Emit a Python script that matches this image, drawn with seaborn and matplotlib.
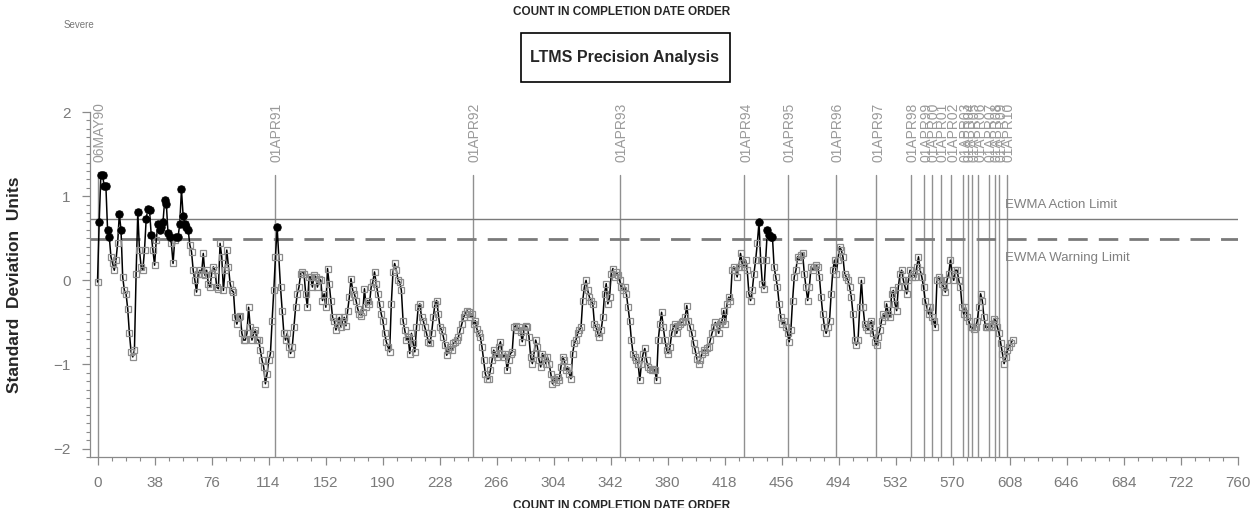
import numpy as np
import pandas as pd
import matplotlib
matplotlib.use("Agg")
import matplotlib.pyplot as plt
from matplotlib.patches import Rectangle
from matplotlib.ticker import MultipleLocator
import seaborn as sns

# EWMA values (standard deviation units), completion-date order
ewma_1990_91 = [-0.02, 0.69, 1.25, 1.25, 1.12, 1.12, 0.60, 0.52, 0.28, 0.20,
                0.12, 0.24, 0.44, 0.79, 0.60, 0.04, -0.12, -0.16, -0.34, -0.63,
                -0.85, -0.91, -0.83, 0.08, 0.81, 0.36, 0.16, 0.12, 0.36, 0.73,
                0.85, 0.83, 0.54, 0.36, 0.18, 0.48, 0.67, 0.60, 0.63, 0.69,
                0.95, 0.91, 0.56, 0.52, 0.44, 0.20, 0.48, 0.52, 0.52, 0.67,
                1.08, 0.77, 0.67, 0.63, 0.60, 0.42, 0.34, 0.12, 0.00, -0.14,
                0.08, 0.12, 0.08, 0.32, 0.06, 0.12, -0.04, -0.08, 0.08, 0.16,
                0.12, -0.08, -0.10, 0.44, 0.28, -0.12, 0.12, 0.36, 0.16, -0.04,
                -0.12, -0.14, -0.44, -0.52, -0.44, -0.42, -0.63, -0.71, -0.71, -0.63,
                -0.32, -0.56, -0.71, -0.63, -0.59, -0.71, -0.71, -0.83, -0.95, -1.03,
                -1.23, -1.11, -0.95, -0.87, -0.48, -0.12, 0.28, 0.63, 0.28, -0.08,
                -0.36, -0.63, -0.71, -0.63, -0.79, -0.87, -0.79, -0.56, -0.32, -0.16,
                -0.08, 0.08, 0.10, 0.08, -0.16, -0.32, 0.04, 0.04, -0.08, 0.06,
                0.04, -0.08, 0.02, 0.00, -0.24, -0.16, -0.32, 0.14]
ewma_1991_93 = [-0.04, -0.24, -0.44, -0.48, -0.59, -0.52, -0.44, -0.56, -0.48, -0.44,
                -0.54, -0.36, -0.20, 0.02, -0.12, -0.16, -0.24, -0.34, -0.40, -0.42,
                -0.38, -0.10, -0.32, -0.24, -0.28, -0.08, -0.02, 0.10, -0.04, -0.16,
                -0.28, -0.40, -0.48, -0.63, -0.73, -0.79, -0.85, -0.28, 0.10, 0.20,
                0.12, 0.00, -0.02, -0.12, -0.48, -0.59, -0.71, -0.67, -0.87, -0.63,
                -0.75, -0.85, -0.56, -0.32, -0.28, -0.44, -0.48, -0.56, -0.63, -0.73,
                -0.75, -0.63, -0.44, -0.28, -0.24, -0.40, -0.56, -0.59, -0.67, -0.77,
                -0.89, -0.83, -0.79, -0.83, -0.75, -0.73, -0.71, -0.67, -0.59, -0.52,
                -0.44, -0.40, -0.36, -0.38, -0.44, -0.40, -0.52, -0.48, -0.58, -0.63,
                -0.67, -0.79, -0.95, -1.11, -1.17, -1.17, -1.07, -0.95, -0.83, -0.87,
                -0.91, -0.79, -0.73, -0.87, -0.91, -0.87, -1.07, -0.95, -0.87, -0.85,
                -0.56, -0.54, -0.59, -0.56, -0.61, -0.73, -0.59, -0.54, -0.56, -0.67,
                -0.91, -0.99, -0.87, -0.71, -0.79, -0.95, -1.03, -0.87, -0.91, -0.99,
                -0.91, -0.99, -1.11, -1.23, -1.17, -1.21, -1.15, -1.19, -1.03, -0.91]
ewma_1993_95 = [-0.95, -1.07, -1.03, -1.11, -1.17, -0.87, -0.75, -0.71, -0.63, -0.59,
                -0.56, -0.24, -0.08, 0.00, -0.12, -0.20, -0.24, -0.28, -0.52, -0.56,
                -0.63, -0.67, -0.59, -0.44, -0.16, -0.04, -0.28, -0.20, 0.08, 0.14,
                0.04, 0.10, 0.06, 0.00, -0.08, -0.12, -0.08, -0.16, -0.32, -0.48,
                -0.71, -0.87, -0.91, -0.95, -0.99, -1.19, -0.99, -0.87, -0.81, -0.95,
                -1.03, -1.05, -1.07, -1.05, -1.07, -1.19, -0.71, -0.52, -0.38, -0.56,
                -0.71, -0.83, -0.87, -0.79, -0.63, -0.56, -0.52, -0.63, -0.54, -0.52,
                -0.50, -0.48, -0.44, -0.30, -0.48, -0.56, -0.63, -0.75, -0.83, -0.93,
                -0.99, -0.95, -0.87, -0.83, -0.85, -0.81, -0.79, -0.71, -0.63, -0.56,
                -0.50, -0.54, -0.63, -0.52, -0.48, -0.36, -0.52, -0.28, -0.20, -0.24,
                0.12, 0.16, 0.12, 0.04, 0.16, 0.32, 0.20, 0.16, 0.24, 0.12,
                -0.16, -0.24, -0.12, 0.08, 0.24, 0.44, 0.69, 0.24, -0.04, -0.10,
                0.24, 0.60, 0.54, 0.52, 0.52, 0.16, 0.04, -0.08, -0.28, -0.44,
                -0.52, -0.48, -0.56, -0.63, -0.73, -0.59, -0.24, 0.04, 0.12, 0.28]
ewma_1995_10 = [0.24, 0.30, 0.32, 0.08, -0.08, -0.24, -0.08, 0.16, 0.12, 0.16,
                0.18, 0.16, 0.04, -0.20, -0.40, -0.56, -0.63, -0.56, -0.48, -0.16,
                0.12, 0.24, 0.08, 0.24, 0.40, 0.36, 0.28, 0.08, 0.04, 0.00,
                -0.08, -0.20, -0.40, -0.71, -0.77, -0.71, -0.32, 0.00, -0.32, -0.52,
                -0.56, -0.59, -0.52, -0.48, -0.63, -0.73, -0.77, -0.67, -0.59, -0.48,
                -0.40, -0.44, -0.28, -0.40, -0.44, -0.16, -0.12, -0.28, -0.36, -0.08,
                0.08, 0.12, 0.00, -0.08, -0.16, 0.00, 0.12, 0.04, 0.08, 0.04,
                0.16, 0.28, 0.12, 0.04, -0.08, -0.24, -0.32, -0.40, -0.32, -0.44,
                -0.48, -0.56, 0.00, 0.04, 0.00, -0.04, -0.08, -0.14, 0.00, 0.08,
                0.24, 0.08, 0.00, 0.12, 0.12, 0.00, -0.08, -0.32, -0.40, -0.32,
                -0.44, -0.48, -0.56, -0.56, -0.58, -0.56, -0.48, -0.32, -0.16, -0.24,
                -0.44, -0.56, -0.56, -0.54, -0.56, -0.52, -0.46, -0.48, -0.56, -0.63,
                -0.75, -0.87, -0.99, -0.91, -0.83, -0.79, -0.75, -0.71]
first_count = 0
last_count = 610

action_limit = 0.73
warning_limit = 0.49

date_labels = ["06MAY90", "01APR91", "01APR92", "01APR93", "01APR94", "01APR95",
               "01APR96", "01APR97", "01APR98", "01APR99", "01APR00", "01APR01",
               "01APR02", "01APR03", "01APR04", "01APR05", "01APR06", "01APR07",
               "01APR08", "01APR09", "01APR10"]
date_counts = [0, 118, 250, 348, 431, 460, 492, 519, 542, 551, 556, 562,
               569, 577, 580, 583, 587, 594, 598, 601, 606]

x_ticks = list(range(0, 761, 38))
y_ticks = [-2, -1, 0, 1, 2]

values = ewma_1990_91 + ewma_1991_93 + ewma_1993_95 + ewma_1995_10
df = pd.DataFrame({"count": np.linspace(first_count, last_count, len(values)),
                   "sdu": values})
above = df[df["sdu"] > warning_limit]

sns.set_style("white")
plt.rcParams["font.family"] = ["Liberation Sans", "DejaVu Sans"]

grey = "#8a8a8a"
fig = plt.figure(figsize=(12.5, 5.08), dpi=100)
ax = fig.add_axes([0.072, 0.1004, 0.918, 0.679])

# date reference lines with rotated labels
for lab, c in zip(date_labels, date_counts):
    ax.plot([c, c], [-2.1, 1.25], color="#909090", lw=1.0, zorder=1)
    ax.text(c + 1.5, 1.41, lab, rotation=90, ha="center", va="bottom",
            fontsize=10, color="#9a9a9a", clip_on=False)

ax.axhline(action_limit, color="#7a7a7a", lw=1.0, zorder=1)
ax.axhline(warning_limit, color="#7a7a7a", lw=2.0, dashes=(7, 4), zorder=1)
ax.text(605, 0.89, "EWMA Action Limit", fontsize=9.5, color="#808080", va="center")
ax.text(605, 0.26, "EWMA Warning Limit", fontsize=9.5, color="#808080", va="center")

sns.lineplot(data=df, x="count", y="sdu", ax=ax, color="black", lw=1.1,
             marker="s", markersize=5, markerfacecolor="none",
             markeredgecolor="#8c8c8c", markeredgewidth=0.9, zorder=3)
sns.scatterplot(data=above, x="count", y="sdu", ax=ax, color="black",
                marker="o", s=30, edgecolor="black", zorder=4)

ax.set_xlim(-5, 760)
ax.set_ylim(-2.1, 2.0)
ax.set_xticks(x_ticks)
ax.set_yticks(y_ticks)
ax.xaxis.set_minor_locator(MultipleLocator(9.5))
ax.yaxis.set_minor_locator(MultipleLocator(0.1))
ax.tick_params(axis="both", which="major", direction="out", length=6, width=0.9,
               color=grey, labelcolor="#7a7a7a", labelsize=11, pad=8, bottom=True, left=True)
ax.tick_params(axis="both", which="minor", direction="out", length=3, width=0.8,
               color=grey, bottom=True, left=True)
for s in ["top", "right"]:
    ax.spines[s].set_visible(False)
for s in ["left", "bottom"]:
    ax.spines[s].set_color(grey)
    ax.spines[s].set_linewidth(0.9)
ax.set_xlabel("")
ax.set_ylabel("Standard  Deviation  Units", fontsize=12.5, fontweight="bold")
ax.yaxis.set_label_coords(-0.059, 0.5)

fig.text(0.497, 0.976, "COUNT IN COMPLETION DATE ORDER", ha="center", va="center",
         fontsize=8.5, fontweight="bold")
fig.text(0.497, 0.004, "COUNT IN COMPLETION DATE ORDER", ha="center", va="center",
         fontsize=8.5, fontweight="bold")
fig.text(0.051, 0.95, "Severe", fontsize=7, color="#777777", va="center")
fig.patches.append(Rectangle((0.417, 0.838), 0.167, 0.097, transform=fig.transFigure,
                             fill=False, edgecolor="black", lw=1.2))
fig.text(0.5, 0.886, "LTMS Precision Analysis", ha="center", va="center",
         fontsize=11.5, fontweight="bold")

fig.savefig("out.png", dpi=100)
